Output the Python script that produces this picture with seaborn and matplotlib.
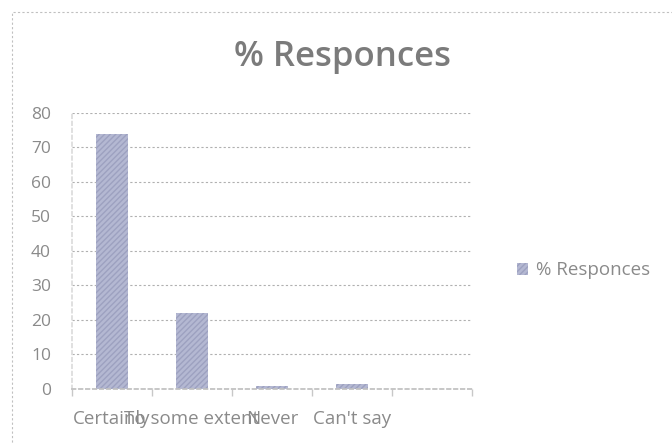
import numpy as np
import pandas as pd
import matplotlib
matplotlib.use("Agg")
import matplotlib.pyplot as plt
import matplotlib.patches as mpatches
import seaborn as sns

categories = ["Certainly", "To some extent", "Never", "Can't say"]
responses = [74, 22, 1, 1.5]
series_name = "% Responces"

sns.set_theme(style="white")
plt.rcParams["font.family"] = ["Open Sans", "DejaVu Sans"]

text_col = "#8a8a8a"
bar_col = "#b4b8d2"

df = pd.DataFrame({"category": categories, "value": responses})

fig = plt.figure(figsize=(6.72, 4.43), dpi=100)
ax = fig.add_axes([0.107, 0.122, 0.595, 0.623])

sns.barplot(data=df, x="category", y="value", color=bar_col, width=0.4,
            ax=ax, saturation=1)
for p in ax.patches:
    p.set_hatch("//////")
    p.set_edgecolor("#9da1c0")
    p.set_linewidth(0)

ax.set_xlim(-0.5, 4.5)
ax.set_ylim(0, 80)
ax.set_yticks(np.arange(0, 81, 10))
ax.yaxis.grid(True, linestyle=(0, (2, 2)), color="#b0b0b0", linewidth=0.8)
ax.set_axisbelow(True)
for s in ["top", "right"]:
    ax.spines[s].set_visible(False)
ax.spines["left"].set_color("#dcdcdc")
ax.spines["left"].set_linestyle((0, (2, 2)))
ax.spines["bottom"].set_color("#c0c0c0")
ax.spines["bottom"].set_linestyle((0, (2, 2)))

# category labels overlap in the original chart as well
ax.set_xticks(range(len(categories)))
ax.set_xticklabels(categories)
ax.set_xticks(np.arange(-0.5, 4.6, 1), minor=True)
ax.tick_params(axis="x", which="major", length=0, pad=15, labelsize=13.5, labelcolor=text_col)
ax.tick_params(axis="x", which="minor", length=5, color="#c8c8c8", direction="out", bottom=True)
ax.tick_params(axis="y", length=0, pad=15, labelsize=12.5, labelcolor=text_col)
ax.set_xlabel("")
ax.set_ylabel("")

fig.text(0.509, 0.872, series_name, ha="center", va="center", fontsize=25,
         color="#7b7b7b", fontweight="semibold")

handle = mpatches.Patch(facecolor=bar_col, hatch="//////", edgecolor="#9da1c0", linewidth=0)
fig.legend([handle], [series_name], loc="center", bbox_to_anchor=(0.868, 0.39),
           frameon=False, fontsize=13.5, labelcolor=text_col,
           handlelength=0.6, handleheight=0.6, handletextpad=0.4)

border = mpatches.Rectangle((0.018, -0.02), 1.0, 0.993, transform=fig.transFigure,
                            fill=False, edgecolor="#c0c0c0", linestyle=(0, (2, 2)),
                            linewidth=0.8)
fig.patches.append(border)

fig.savefig("out.png", dpi=100)
